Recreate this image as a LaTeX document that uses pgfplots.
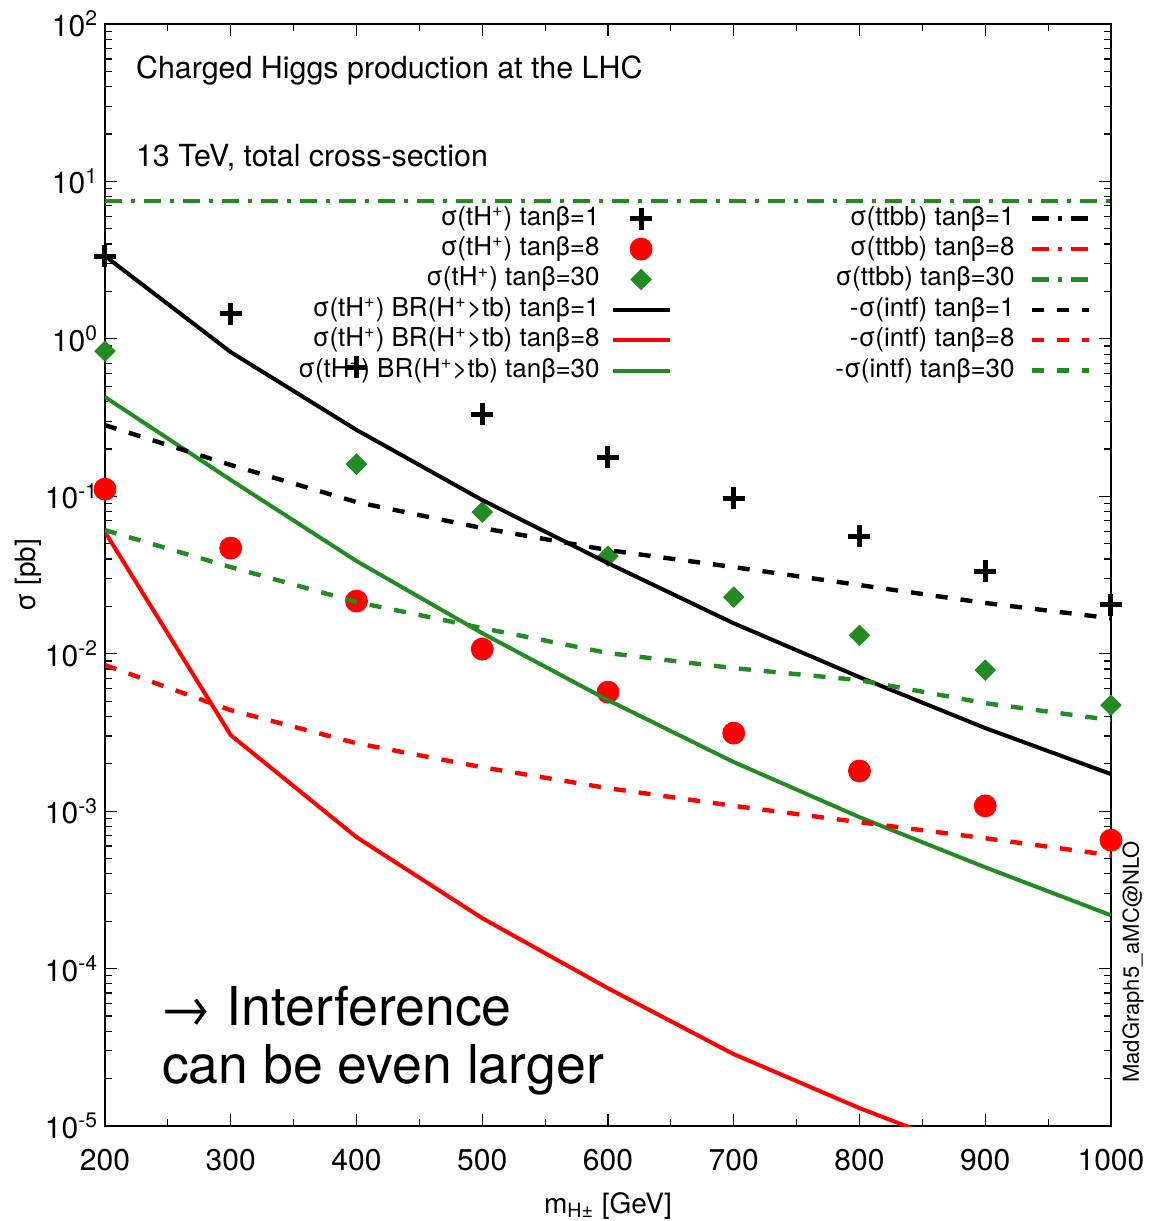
\documentclass[border=0pt]{standalone}
\usepackage{pgfplots}
\pgfplotsset{compat=1.18}
\usepackage{fontspec}
\setmainfont{TeX Gyre Heros}

\definecolor{fgreen}{RGB}{34,139,34}
\definecolor{hred}{RGB}{255,0,0}

\newcommand{\lgfont}{\fontsize{13}{15}\selectfont}
\newcommand{\tkfont}{\fontsize{15}{18}\selectfont}
% gap between a legend text and its sample
\newcommand{\lgap}[1]{\rule{#1}{0pt}}

\pgfplotsset{
  legend image code/.code={\draw[mark repeat=2,mark phase=2,#1] plot coordinates {(0cm,0cm)(0.5cm,0cm)(1cm,0cm)};},
}

\begin{document}
\begin{tikzpicture}
\useasboundingbox (-52.5pt,-47.5pt) rectangle (525pt,563pt);
\begin{axis}[name=main, at={(0,0)}, anchor=south west,
  scale only axis, width=503pt, height=551pt,
  xmin=200, xmax=1000, ymode=log, ymin=1e-5, ymax=1e2,
  clip mode=individual,
  legend cell align=right, legend plot pos=right,
  legend style={draw=none, fill=none, font=\lgfont, inner sep=0pt,
    nodes={inner sep=1.5pt, text height=9.3pt, text depth=2.9pt},
    at={(axis description cs:0.5636,0.8375)}, anchor=north east},
  xtick={200,300,...,1000},
  xticklabels={200,300,400,500,600,700,800,900,1000},
  minor x tick num=1,
  ytick={1e-5,1e-4,1e-3,1e-2,1e-1,1,10,100},
  yticklabels={10\textsuperscript{-5},10\textsuperscript{-4},10\textsuperscript{-3},10\textsuperscript{-2},10\textsuperscript{-1},10\textsuperscript{0},10\textsuperscript{1},10\textsuperscript{2}},
  tick align=inside, major tick length=6pt, minor tick length=3.5pt,
  tick style={black, line width=0.6pt},
  axis line style={black, line width=0.7pt},
  ticklabel style={font=\tkfont},
  xticklabel style={yshift=-8pt},
  xlabel={m\textsubscript{H±} [GeV]}, ylabel={σ [pb]},
  label style={font=\fontsize{14}{17}\selectfont},
  xlabel style={at={(axis description cs:0.5,-0.079)}, anchor=base},
  ylabel style={at={(axis description cs:-0.0765,0.5)}, anchor=center},
]
% sigma(tH+) at three values of tan beta
\addplot[only marks, mark=+, mark size=5.5pt, mark options={line width=2.5pt}, black]
  coordinates {(200,3.36)(300,1.44)(400,0.662)(500,0.333)(600,0.1775)(700,0.0975)(800,0.0559)(900,0.0335)(1000,0.0204)};
\addlegendentry{σ(tH\textsuperscript{+}) tanβ=1\lgap{4pt}}
\addplot[only marks, mark=*, mark size=5.5pt, hred, mark options={draw=hred, fill=hred}]
  coordinates {(200,0.111)(300,0.0469)(400,0.0216)(500,0.0107)(600,0.0057)(700,0.00313)(800,0.0018)(900,0.00108)(1000,0.000654)};
\addlegendentry{σ(tH\textsuperscript{+}) tanβ=8\lgap{4pt}}
\addplot[only marks, mark=square*, mark size=3.6pt, fgreen, mark options={rotate=45, draw=fgreen, fill=fgreen}]
  coordinates {(200,0.837)(400,0.160)(500,0.0794)(600,0.0417)(700,0.0229)(800,0.0131)(900,0.00787)(1000,0.00471)};
\addlegendentry{σ(tH\textsuperscript{+}) tanβ=30\lgap{4pt}}
% sigma(tH+) x BR(H+ -> tb)
\addplot[line width=2pt, mark=none, black]
  coordinates {(200,3.36)(300,0.824)(400,0.264)(500,0.0946)(600,0.0376)(700,0.0156)(800,0.0071)(900,0.00337)(1000,0.00172)};
\addlegendentry{σ(tH\textsuperscript{+}) BR(H\textsuperscript{+}>tb) tanβ=1\lgap{4pt}}
\addplot[line width=2pt, mark=none, hred]
  coordinates {(200,0.0593)(300,0.00304)(400,0.000684)(500,0.000209)(600,7.5e-5)(700,2.86e-5)(800,1.30e-5)(900,6.4e-6)};
\addlegendentry{σ(tH\textsuperscript{+}) BR(H\textsuperscript{+}>tb) tanβ=8\lgap{4pt}}
\addplot[line width=2pt, mark=none, fgreen]
  coordinates {(200,0.427)(300,0.127)(400,0.0388)(500,0.0135)(600,0.00507)(700,0.00205)(800,0.000916)(900,0.00044)(1000,0.000218)};
\addlegendentry{σ(tH\textsuperscript{+}) BR(H\textsuperscript{+}>tb) tanβ=30\lgap{4pt}}
\end{axis}

\begin{axis}[hide axis, at={(0,0)}, anchor=south west,
  scale only axis, width=503pt, height=551pt,
  xmin=200, xmax=1000, ymode=log, ymin=1e-5, ymax=1e2,
  clip mode=individual,
  legend cell align=right, legend plot pos=right,
  legend style={draw=none, fill=none, font=\lgfont, inner sep=0pt,
    nodes={inner sep=1.5pt, text height=9.3pt, text depth=2.9pt},
    at={(axis description cs:0.9805,0.8375)}, anchor=north east},
]
% sigma(ttbb), identical for all tan beta
\addplot[line width=2.2pt, mark=none, dash pattern=on 8.5pt off 4.5pt on 2pt off 4.5pt, black] coordinates {(200,7.5)(1000,7.5)};
\addlegendentry{σ(ttbb) tanβ=1\lgap{6pt}}
\addplot[line width=2.2pt, mark=none, dash pattern=on 8.5pt off 4.5pt on 2pt off 4.5pt, hred] coordinates {(200,7.5)(1000,7.5)};
\addlegendentry{σ(ttbb) tanβ=8\lgap{6pt}}
\addplot[line width=2.2pt, mark=none, dash pattern=on 8.5pt off 4.5pt on 2pt off 4.5pt, fgreen] coordinates {(200,7.5)(1000,7.5)};
\addlegendentry{σ(ttbb) tanβ=30\lgap{6pt}}
% minus the interference term
\addplot[line width=2.2pt, mark=none, dash pattern=on 6pt off 6.5pt, black]
  coordinates {(200,0.283)(300,0.158)(400,0.0919)(500,0.0628)(600,0.0455)(700,0.0355)(800,0.0273)(900,0.0210)(1000,0.0168)};
\addlegendentry{-σ(intf) tanβ=1\lgap{6pt}}
\addplot[line width=2.2pt, mark=none, dash pattern=on 6pt off 6.5pt, hred]
  coordinates {(200,0.00847)(300,0.00438)(400,0.0027)(500,0.0019)(600,0.0014)(700,0.00108)(800,0.000851)(900,0.000673)(1000,0.000525)};
\addlegendentry{-σ(intf) tanβ=8\lgap{6pt}}
\addplot[line width=2.2pt, mark=none, dash pattern=on 6pt off 6.5pt, fgreen]
  coordinates {(200,0.061)(300,0.0355)(400,0.0213)(500,0.01455)(600,0.0101)(700,0.0081)(800,0.00679)(900,0.00485)(1000,0.00379)};
\addlegendentry{-σ(intf) tanβ=30\lgap{6pt}}
\end{axis}

\node[anchor=base west, font=\fontsize{15.2}{18}\selectfont] at (12pt,523.5pt) {Charged Higgs production at the LHC};
\node[anchor=base west, font=\fontsize{15.2}{18}\selectfont] at (12pt,479.5pt) {13 TeV, total cross-section};
\node[anchor=base west, font=\fontsize{26.8}{30}\selectfont] at (23pt,50.5pt) {→ Interference};
\node[anchor=base west, font=\fontsize{26.8}{30}\selectfont] at (25pt,21.5pt) {can be even larger};
\node[rotate=90, font=\fontsize{11}{13}\selectfont] at (514pt,82pt) {MadGraph5\_aMC@NLO};
\end{tikzpicture}
\end{document}
